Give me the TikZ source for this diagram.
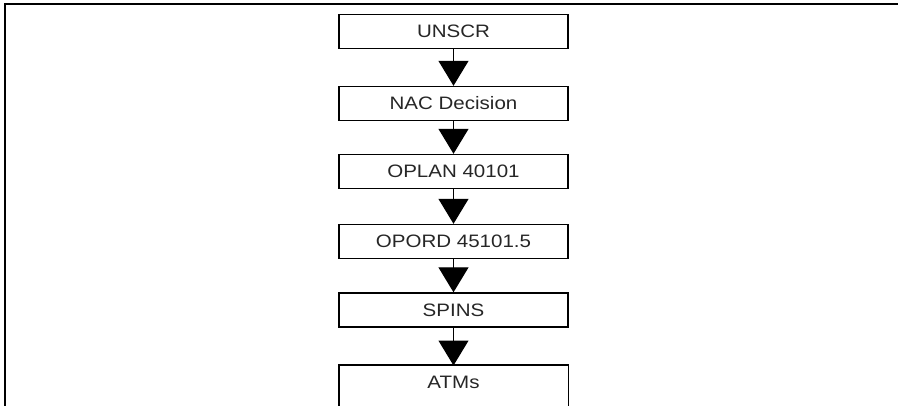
\documentclass[tikz,border=0pt]{standalone}
\usepackage{fontspec}
\setmainfont[FakeStretch=1.14]{Liberation Sans}
\usetikzlibrary{arrows.meta}
\begin{document}
\begin{tikzpicture}[x=1pt,y=1pt,
  stepbox/.style={draw, line width=1.4pt, minimum width=229pt, minimum height=34pt,
    inner sep=0pt, text=black!85, font=\fontsize{18}{20}\selectfont},
  openbox/.style={minimum width=229pt, minimum height=34pt, inner sep=0pt,
    text=black!85, font=\fontsize{18}{20}\selectfont},
  flow/.style={line width=1.2pt, -{Triangle[width=30pt,length=25pt]}}]
\useasboundingbox (0,0) rectangle (898,-405);
\clip (0,0) rectangle (898,-405);
\draw[line width=2.6pt] (5,-406) -- (5,-4) -- (899,-4);
\node[stepbox] (b1) at (453.5,-31.5) {UNSCR};
\node[stepbox] (b2) at (453.5,-103.5) {NAC Decision};
\node[stepbox] (b3) at (453.5,-171.5) {OPLAN 40101};
\node[stepbox] (b4) at (453.5,-241.5) {OPORD 45101.5};
\node[stepbox] (b5) at (453.5,-310) {SPINS};
\node[openbox] (b6) at (453.5,-382) {ATMs};
\draw[line width=1.4pt] ([yshift=-30pt]b6.south west) -- (b6.north west) -- (b6.north east) -- ([yshift=-30pt]b6.south east);
\draw[flow] (b1.south) -- (b2.north);
\draw[flow] (b2.south) -- (b3.north);
\draw[flow] (b3.south) -- (b4.north);
\draw[flow] (b4.south) -- (b5.north);
\draw[flow] (b5.south) -- ([yshift=-0.7pt]b6.north);
\end{tikzpicture}
\end{document}
